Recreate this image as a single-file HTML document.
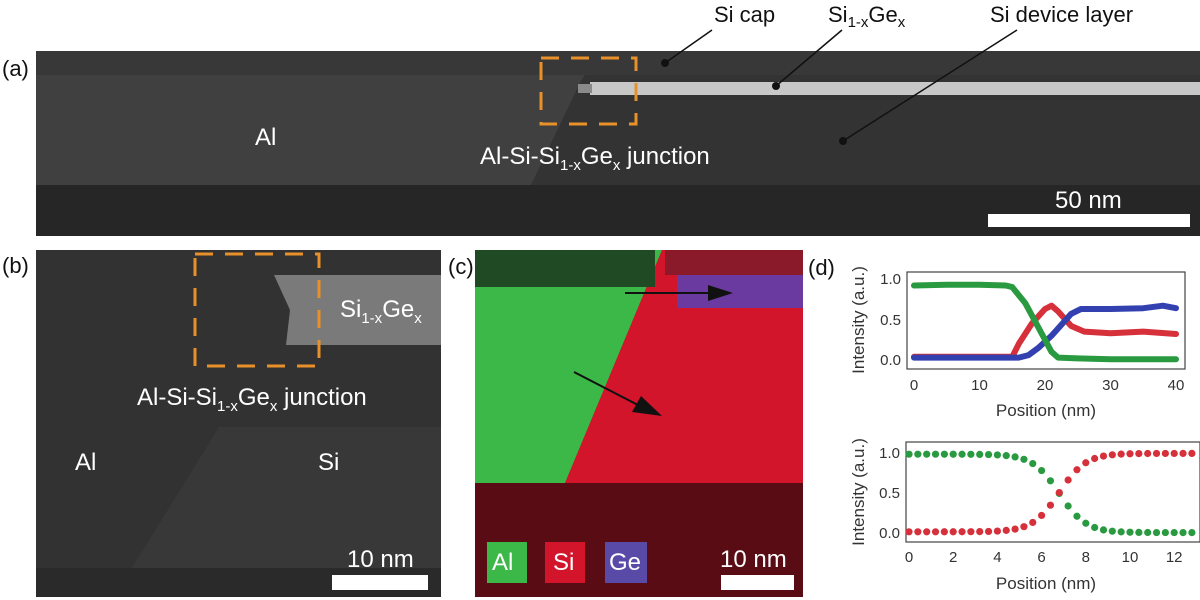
<!DOCTYPE html>
<html><head><meta charset="utf-8"><style>
body{margin:0;background:#fff;width:1200px;height:600px;overflow:hidden}
svg{display:block}
text{font-family:"Liberation Sans Narrow","Liberation Sans",sans-serif}
.w{fill:#fff;font-size:24px}
.k{fill:#111;font-size:22px}
.t{fill:#333;font-family:"Liberation Sans",sans-serif;font-size:15px}
</style></head><body>
<svg id="s" width="1200" height="600" viewBox="0 0 1200 600" xmlns="http://www.w3.org/2000/svg">
<!-- panel a -->
<rect x="36" y="51" width="1164" height="185" fill="#363636"/>
<rect x="36" y="51" width="1164" height="24" fill="#383838"/>
<polygon points="36,75 585,75 580,83 531,185 36,185" fill="#404040"/>
<rect x="36" y="185" width="1164" height="51" fill="#262626"/>
<polygon points="585,75 1200,75 1200,185 531,185 580,83" fill="#333"/>
<rect x="590" y="82" width="610" height="13" fill="#c8c8c8"/>
<rect x="578" y="84" width="14" height="9" fill="#8a8a8a"/>
<rect x="541" y="58" width="95" height="66" fill="none" stroke="#e8902a" stroke-width="3" stroke-dasharray="18,12"/>
<text x="2" y="76" class="k">(a)</text>
<text x="255" y="145" class="w">Al</text>
<text x="480" y="164" class="w">Al-Si-Si<tspan font-size="15" dy="6">1-x</tspan><tspan dy="-6">Ge</tspan><tspan font-size="15" dy="6">x</tspan><tspan dy="-6"> junction</tspan></text>
<text x="1055" y="208" class="w">50 nm</text>
<rect x="988" y="214" width="202" height="13" fill="#fff"/>
<text x="714" y="22" class="k">Si cap</text>
<text x="828" y="22" class="k">Si<tspan font-size="15" dy="5">1-x</tspan><tspan dy="-5">Ge</tspan><tspan font-size="15" dy="5">x</tspan></text>
<text x="990" y="22" class="k">Si device layer</text>
<g stroke="#111" stroke-width="1.5"><line x1="712" y1="30" x2="665" y2="63"/><line x1="842" y1="30" x2="776" y2="86"/><line x1="1017" y1="30" x2="843" y2="141"/></g>
<g fill="#111"><circle cx="665" cy="63" r="4"/><circle cx="776" cy="86" r="4"/><circle cx="843" cy="141" r="4"/></g>
<!-- panel b -->
<rect x="36" y="250" width="405" height="347" fill="#323232"/>
<polygon points="219,427 441,427 441,568 132,568" fill="#383838"/>
<polygon points="274,275 441,275 441,345 286,345 290,310" fill="#7a7a7a"/>
<rect x="36" y="568" width="405" height="29" fill="#2a2a2a"/>
<rect x="195" y="254" width="124" height="112" fill="none" stroke="#e8902a" stroke-width="3" stroke-dasharray="18,12"/>
<text x="2" y="273" class="k">(b)</text>
<text x="340" y="317" class="w">Si<tspan font-size="15" dy="6">1-x</tspan><tspan dy="-6">Ge</tspan><tspan font-size="15" dy="6">x</tspan></text>
<text x="137" y="405" class="w">Al-Si-Si<tspan font-size="15" dy="6">1-x</tspan><tspan dy="-6">Ge</tspan><tspan font-size="15" dy="6">x</tspan><tspan dy="-6"> junction</tspan></text>
<text x="75" y="470" class="w">Al</text>
<text x="318" y="470" class="w">Si</text>
<text x="347" y="567" class="w">10 nm</text>
<rect x="332" y="575" width="96" height="15" fill="#fff"/>
<!-- panel c -->
<rect x="475" y="250" width="328" height="347" fill="#5a0c14"/>
<polygon points="662,250 803,250 803,483 565,483" fill="#d2152a"/>
<polygon points="475,250 662,250 565,483 475,483" fill="#3cb848"/>
<rect x="475" y="250" width="180" height="37" fill="#1f4a24"/>
<rect x="665" y="250" width="138" height="25" fill="#8a1a2a"/>
<rect x="677" y="275" width="126" height="33" fill="#6a3aa0"/>
<text x="448" y="274" class="k">(c)</text>
<g stroke="#111" stroke-width="2"><line x1="625" y1="293" x2="712" y2="293"/><line x1="574" y1="372" x2="638" y2="405"/></g>
<polygon points="733,293 708,285 708,301" fill="#111"/>
<polygon points="662,416 632,412 641,396" fill="#111"/>
<rect x="487" y="542" width="40" height="41" fill="#3cb848"/>
<rect x="545" y="542" width="40" height="41" fill="#d2152a"/>
<rect x="605" y="542" width="42" height="41" fill="#5a4aa8"/>
<text x="492" y="570" class="w">Al</text><text x="553" y="570" class="w">Si</text><text x="609" y="570" class="w">Ge</text>
<text x="720" y="567" class="w">10 nm</text>
<rect x="721" y="575" width="73" height="15" fill="#fff"/>
<!-- panel d -->
<text x="808" y="275" class="k">(d)</text>
<rect x="907" y="272" width="278" height="97" fill="none" stroke="#444" stroke-width="1.2"/>
<g class="t" text-anchor="end"><text x="901" y="284">1.0</text><text x="901" y="325">0.5</text><text x="901" y="365">0.0</text></g>
<g class="t" text-anchor="middle"><text x="914" y="390">0</text><text x="979.5" y="390">10</text><text x="1045" y="390">20</text><text x="1110.5" y="390">30</text><text x="1176" y="390">40</text>
<text x="1046" y="416" font-size="17">Position (nm)</text>
<text transform="translate(864,320) rotate(-90)" font-size="17">Intensity (a.u.)</text>
<text x="1046" y="589" font-size="17">Position (nm)</text>
<text transform="translate(864,492) rotate(-90)" font-size="17">Intensity (a.u.)</text></g>
<g fill="none" stroke-width="6" stroke-linejoin="round" stroke-linecap="round">
<polyline stroke="#d6303a" points="914,356.8 1012.25,356.8 1018.8,343.8 1031.9,323.55 1045,309 1051.55,305.7 1058.1,311.4 1071.2,326 1084.3,331.65 1110.5,333.3 1143.25,331.65 1176,334"/>
<polyline stroke="#3340b0" points="914,357.6 1018.8,357.6 1028.6,355.1 1038.45,347.85 1051.55,335.7 1064.65,321.1 1071.2,313.8 1081,309 1110.5,309 1143.25,308.2 1162.9,305.7 1176,308.2"/>
<polyline stroke="#2a9a40" points="914,285.5 946.75,284.7 979.5,284.7 1005.7,285.5 1012.25,287.1 1025.35,303.3 1038.45,327.6 1045,339.75 1051.55,351.9 1058.1,357.6 1077.75,358.4 1110.5,359.2 1176,359.2"/>
</g>
<rect x="906" y="442" width="294" height="100" fill="none" stroke="#444" stroke-width="1.2"/>
<g class="t" text-anchor="end"><text x="900" y="458">1.0</text><text x="900" y="498">0.5</text><text x="900" y="538">0.0</text></g>
<g class="t" text-anchor="middle" id="bx"></g>
<g id="dots"></g>
</svg>
<script>
var ns="http://www.w3.org/2000/svg",bx=document.getElementById("bx"),d=document.getElementById("dots");
for(var i=0;i<=12;i+=2){var t=document.createElementNS(ns,"text");t.setAttribute("x",909+i*22.1);t.setAttribute("y",562);t.textContent=i;bx.appendChild(t);}
for(var x=0;x<=13.01;x+=0.4){var g=0.005+0.98/(1+Math.exp((x-6.8)/0.6));var px=909+x*22.1;
[[g,"#2a9a40"],[1-g,"#d6303a"]].forEach(function(p){var c=document.createElementNS(ns,"circle");c.setAttribute("cx",px);c.setAttribute("cy",533-p[0]*80);c.setAttribute("r",3.6);c.setAttribute("fill",p[1]);d.appendChild(c);});}
</script>
</body></html>
